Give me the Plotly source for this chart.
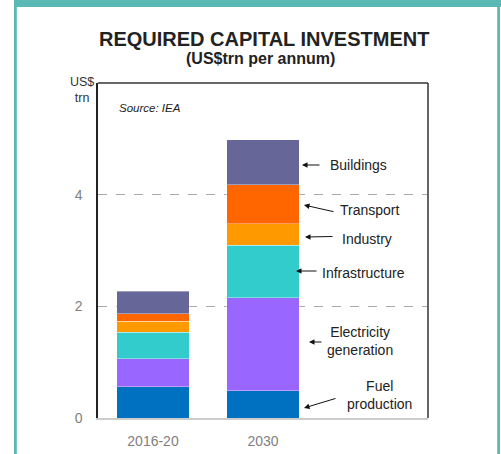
import plotly.graph_objects as go

# Capital investment requirement, US$trn per annum (source: IEA)
periods = ["2016-20", "2030"]
sectors = ["Fuel production", "Electricity generation", "Infrastructure",
           "Industry", "Transport", "Buildings"]
fuel_production = [0.56, 0.49]
electricity_generation = [0.50, 1.66]
infrastructure = [0.48, 0.94]
industry = [0.19, 0.39]
transport = [0.14, 0.70]
buildings = [0.40, 0.80]

series = [fuel_production, electricity_generation, infrastructure,
          industry, transport, buildings]
colors = ["#0070C0", "#9966FF", "#33CCCC", "#FF9900", "#FF6600", "#666699"]

y_ticks = [0, 2, 4]

FONT = "Liberation Sans, Arial, sans-serif"

fig = go.Figure()
for name, vals, col in zip(sectors, series, colors):
    fig.add_trace(go.Bar(
        x=periods, y=vals, name=name, width=0.66,
        marker=dict(color=col, line=dict(color="rgba(255,255,255,0.6)", width=0.6)),
    ))

# Plot-area geometry (pixels) used to place the callout labels
L, R, T, B = 98, 428, 83, 418
W, H = 501, 454


def px_x(px):
    return (px - L) / ((R - L) / 3.0) - 0.5


def px_y(py):
    return (B - py) / ((B - T) / 6.0)


def paper_x(px):
    return (px - L) / (R - L)


def paper_y(py):
    return (B - py) / (B - T)


# Sector callouts beside the 2030 bar: (text, text centre px, arrow tail px, arrow head px)
callouts = [
    ("Buildings", (358, 165), (321, 165), (302, 165)),
    ("Transport", (370, 210), (335, 212), (304, 205)),
    ("Industry", (367, 239), (334, 236.5), (305, 237)),
    ("Infrastructure", (363, 273), (318, 271), (296, 271)),
    ("Electricity<br>generation", (360, 341), (323, 342), (309, 342)),
    ("Fuel<br>production", (379, 395), (337, 398), (304, 408)),
]

annotations = []
for text, (tx, ty), (ax_, ay_), (hx, hy) in callouts:
    annotations.append(dict(
        x=px_x(tx), y=px_y(ty), xref="x", yref="y", text=text, showarrow=False,
        xanchor="center", yanchor="middle",
        font=dict(family=FONT, size=14, color="#222"), align="center",
    ))
    annotations.append(dict(
        x=px_x(hx), y=px_y(hy), ax=px_x(ax_), ay=px_y(ay_),
        xref="x", yref="y", axref="x", ayref="y", text="", showarrow=True,
        arrowhead=2, arrowsize=1.1, arrowwidth=1, arrowcolor="#111",
    ))

# Titles and notes
annotations += [
    dict(x=paper_x(264), y=paper_y(39), xref="paper", yref="paper",
         xanchor="center", yanchor="middle",
         text="<b>REQUIRED CAPITAL INVESTMENT</b>", showarrow=False,
         font=dict(family=FONT, size=20, color="#222")),
    dict(x=paper_x(260), y=paper_y(59), xref="paper", yref="paper",
         xanchor="center", yanchor="middle",
         text="<b>(US$trn per annum)</b>", showarrow=False,
         font=dict(family=FONT, size=16, color="#222")),
    dict(x=paper_x(82), y=paper_y(90), xref="paper", yref="paper",
         xanchor="center", yanchor="middle",
         text="US$<br>trn", showarrow=False, align="center",
         font=dict(family=FONT, size=12.5, color="#333")),
    dict(x=paper_x(117), y=paper_y(108), xref="paper", yref="paper",
         xanchor="left", yanchor="middle", text="<i>Source: IEA</i>", showarrow=False,
         font=dict(family=FONT, size=11.5, color="#222")),
]

shapes = [
    # teal panel border
    dict(type="rect", xref="paper", yref="paper",
         x0=paper_x(14), x1=paper_x(501), y0=paper_y(0), y1=paper_y(7),
         fillcolor="#5BB9B5", line=dict(width=0), layer="below"),
    dict(type="rect", xref="paper", yref="paper",
         x0=paper_x(14), x1=paper_x(16.8), y0=paper_y(0), y1=paper_y(H + 2),
         fillcolor="#5BB9B5", line=dict(width=0), layer="below"),
    dict(type="rect", xref="paper", yref="paper",
         x0=paper_x(497.2), x1=paper_x(500), y0=paper_y(0), y1=paper_y(H + 2),
         fillcolor="#5BB9B5", line=dict(width=0), layer="below"),
    # top and right frame of the plot box
    dict(type="line", xref="paper", yref="paper", x0=0, x1=1, y0=1, y1=1,
         line=dict(color="#333", width=1.5)),
    dict(type="line", xref="paper", yref="paper", x0=1, x1=1, y0=0, y1=1,
         line=dict(color="#333", width=1.5)),
]

fig.update_layout(
    width=W, height=H,
    margin=dict(l=L, r=W - R, t=T, b=H - B, pad=0, autoexpand=False),
    barmode="stack", showlegend=False,
    paper_bgcolor="white", plot_bgcolor="white",
    font=dict(family=FONT),
    annotations=annotations, shapes=shapes,
    xaxis=dict(
        type="category", range=[-0.5, 2.5], showgrid=False, automargin=False,
        showline=True, linecolor="#CCCCCC", linewidth=2,
        ticks="outside", ticklen=9, tickcolor="rgba(0,0,0,0)",
        tickfont=dict(family=FONT, size=14, color="#7F7F7F"),
        fixedrange=True,
    ),
    yaxis=dict(
        range=[0, 6], tickvals=y_ticks, ticktext=[str(v) for v in y_ticks],
        showgrid=True, gridcolor="#AAAAAA", griddash="dash", gridwidth=1,
        zeroline=False, showline=True, linecolor="#222", linewidth=1.5,
        automargin=False,
        ticks="outside", ticklen=11, tickcolor="rgba(0,0,0,0)",
        tickfont=dict(family=FONT, size=14, color="#7F7F7F"),
        fixedrange=True,
    ),
)

fig.write_html("out.html")
